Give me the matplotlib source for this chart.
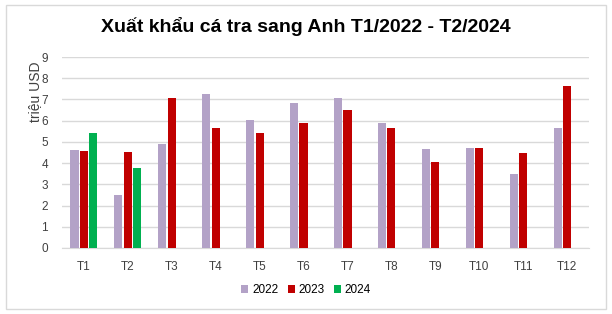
import matplotlib
matplotlib.use("Agg")
import matplotlib.pyplot as plt
import numpy as np
from matplotlib.patches import Rectangle

plt.rcParams['font.family'] = ['Liberation Sans', 'DejaVu Sans']

categories = ["T1", "T2", "T3", "T4", "T5", "T6", "T7", "T8", "T9", "T10", "T11", "T12"]
v2022 = [4.64, 2.51, 4.91, 7.26, 6.05, 6.85, 7.07, 5.89, 4.67, 4.73, 3.50, 5.66]
v2023 = [4.58, 4.51, 7.08, 5.66, 5.44, 5.88, 6.49, 5.66, 4.04, 4.70, 4.48, 7.63]
v2024 = [5.44, 3.78]
series_names = ["2022", "2023", "2024"]
colors = ["#B3A2C7", "#C00000", "#00B050"]

fig = plt.figure(figsize=(6.12, 3.14), dpi=100)
fig.patches.append(Rectangle((0.009, 0.017), 0.982, 0.966, transform=fig.transFigure,
                             fill=False, edgecolor="#D9D9D9", linewidth=1))
ax = fig.add_axes([62/612, 1-248/314, (589-62)/612, (248-57)/314])

x = np.arange(len(categories))
step = 0.215
width = 0.185
data = [v2022, v2023, v2024]
for i, (vals, c, name) in enumerate(zip(data, colors, series_names)):
    xs = x[:len(vals)] + (i - 1) * step
    ax.bar(xs, vals, width=width, color=c, label=name, zorder=3)

ax.set_xlim(-0.5, len(categories) - 0.5)
ax.set_ylim(0, 9)
ax.set_yticks(range(0, 10))
ax.set_xticks(x)
ax.set_xticklabels(categories)
ax.yaxis.grid(True, color="#D9D9D9", linewidth=1, zorder=0)
for s in ["top", "right", "left"]:
    ax.spines[s].set_visible(False)
ax.spines["bottom"].set_color("#D9D9D9")
ax.tick_params(axis="both", length=0, labelsize=8.5, colors="#404040")
ax.tick_params(axis="x", pad=9)
ax.tick_params(axis="y", pad=10)
ax.set_ylabel("triệu USD", fontsize=10, color="#404040")
ax.yaxis.set_label_coords(-20/527, 0.82)

fig.suptitle("Xuất khẩu cá tra sang Anh T1/2022 - T2/2024", x=0.5, y=0.945,
             fontsize=14, fontweight="bold", color="#000000")

handles, labels = ax.get_legend_handles_labels()
fig.legend(handles, labels, loc="center", bbox_to_anchor=(0.5, 1-290/314), ncol=3,
           frameon=False, fontsize=8.5, handlelength=0.6, handleheight=0.6,
           handletextpad=0.3, columnspacing=0.8)

fig.savefig("out.png", dpi=100)
